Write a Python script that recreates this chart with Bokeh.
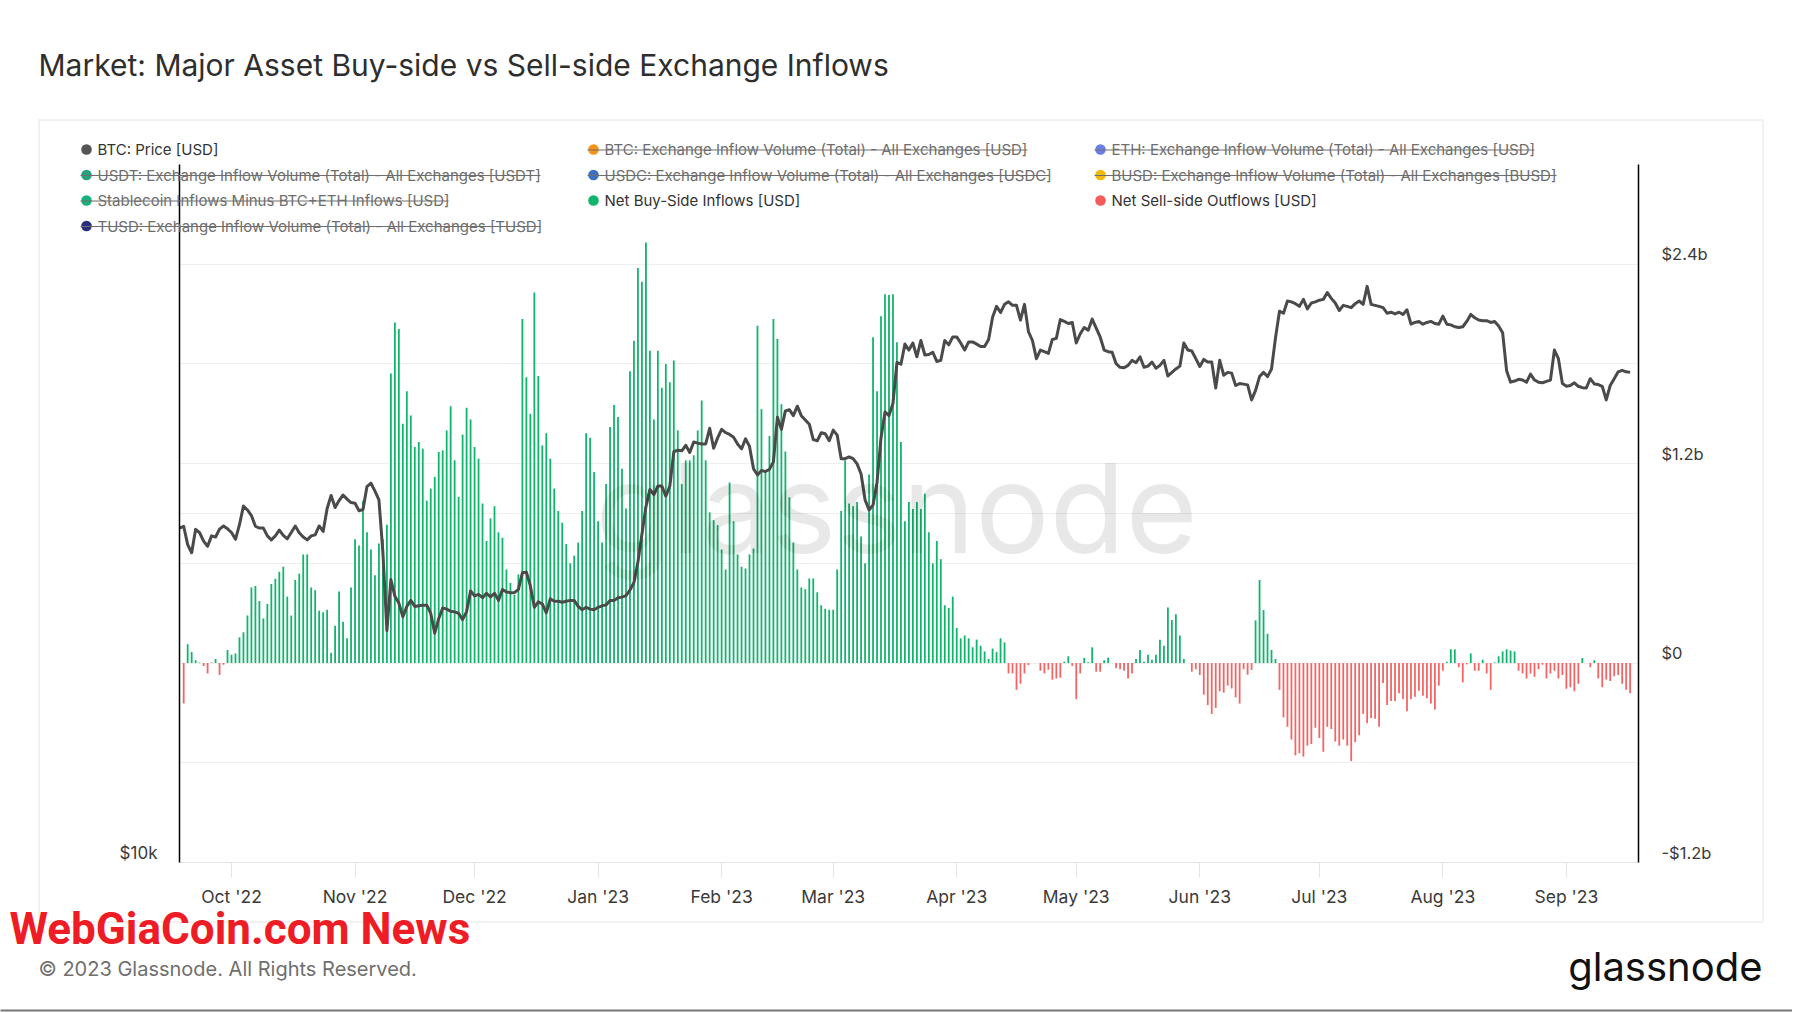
import pandas as pd
from bokeh.plotting import figure
from bokeh.models import (ColumnDataSource, Range1d, LogAxis, LogScale, FixedTicker, Grid,
                          CustomJSTickFormatter, DatetimeTickFormatter, Label)
from bokeh.core.properties import value
from bokeh.embed import file_html
from bokeh.resources import INLINE

# ---------------- data ----------------
TITLE = "Market: Major Asset Buy-side vs Sell-side Exchange Inflows"
FOOTER = "\u00a9 2023 Glassnode. All Rights Reserved."

price_start = "2022-09-18"
btc_price_k = [
    19.43, 19.50, 18.80, 18.50, 19.38, 19.25, 18.93, 18.74, 19.13, 19.09, 19.39, 19.51, 19.40,
    19.26, 19.00, 19.56, 20.30, 20.14, 19.92, 19.50, 19.43, 19.43, 19.13,
    18.98, 19.13, 19.35, 19.15, 19.02, 19.26, 19.51, 19.25, 19.09, 18.98,
    19.13, 19.17, 19.51, 19.30, 20.20, 20.73, 20.24, 20.52, 20.75, 20.58,
    20.44, 20.41, 20.11, 20.16, 21.10, 21.24, 20.91, 20.55, 18.50, 15.85,
    17.54, 16.97, 16.74, 16.29, 16.63, 16.83, 16.63, 16.65, 16.67, 16.67,
    16.40, 15.77, 16.23, 16.58, 16.54, 16.47, 16.45, 16.40, 16.20, 16.46,
    17.15, 16.98, 17.03, 16.92, 17.07, 16.95, 17.07, 16.83, 17.20, 17.11,
    17.09, 17.09, 17.20, 17.78, 17.80, 17.32, 16.60, 16.78, 16.71, 16.42,
    16.88, 16.80, 16.80, 16.77, 16.80, 16.83, 16.83, 16.63, 16.52, 16.60,
    16.54, 16.52, 16.60, 16.65, 16.68, 16.83, 16.83, 16.92, 16.94, 16.99,
    17.18, 17.44, 18.17, 19.19, 20.27, 20.98, 20.76, 21.12, 21.12, 20.70,
    21.12, 22.61, 22.68, 22.65, 22.90, 22.58, 23.05, 23.00, 22.96, 22.96,
    23.69, 22.77, 23.24, 23.64, 23.48, 23.40, 23.27, 22.96, 22.74, 23.20,
    22.85, 21.86, 21.59, 21.78, 21.74, 21.83, 22.16, 24.21, 23.64, 24.52,
    24.58, 24.29, 24.75, 24.29, 24.08, 23.88, 23.16, 23.11, 23.48, 23.43,
    23.11, 23.60, 23.37, 22.30, 22.30, 22.38, 22.30, 22.07, 21.63, 20.55,
    20.14, 20.34, 21.27, 23.24, 24.47, 24.29, 24.89, 27.00, 26.90, 28.00,
    27.67, 28.06, 27.30, 28.20, 27.40, 27.43, 27.55, 27.05, 27.11, 28.20,
    27.96, 28.40, 28.40, 28.06, 27.67, 28.12, 28.12, 28.00, 27.87, 27.87,
    28.26, 29.53, 30.18, 29.81, 30.30, 30.45, 30.24, 30.24, 29.37, 30.30,
    28.70, 28.20, 27.20, 27.67, 27.58, 27.49, 28.26, 28.32, 29.40, 29.29,
    29.17, 29.23, 28.06, 28.58, 28.94, 28.78, 29.43, 28.90, 28.40, 27.67,
    27.58, 27.55, 26.93, 26.74, 26.71, 26.84, 27.11, 26.98, 27.30, 26.74,
    26.80, 27.02, 26.69, 26.84, 27.11, 26.28, 26.47, 26.65, 26.80, 28.06,
    27.67, 27.62, 27.20, 26.78, 27.16, 27.02, 27.02, 25.66, 27.11, 26.32,
    26.47, 26.43, 25.79, 25.89, 25.86, 25.82, 25.06, 25.54, 26.25, 26.47,
    26.25, 26.65, 28.35, 29.89, 29.77, 30.50, 30.45, 30.34, 30.18, 30.60,
    30.03, 30.38, 30.45, 30.55, 30.60, 31.02, 30.66, 30.38, 29.93, 30.24,
    30.18, 30.10, 30.34, 30.50, 30.30, 31.40, 30.30, 30.24, 30.18, 30.10,
    29.77, 29.83, 29.73, 29.83, 29.70, 29.97, 29.13, 29.23, 29.29, 29.13,
    29.23, 29.29, 29.17, 29.13, 29.60, 29.13, 29.09, 28.98, 28.94, 28.98,
    29.29, 29.70, 29.50, 29.37, 29.33, 29.33, 29.23, 29.29, 29.03, 28.64,
    26.56, 25.96, 26.02, 26.11, 26.07, 25.96, 26.38, 26.07, 25.96, 25.93,
    26.00, 26.07, 27.67, 27.20, 25.89, 25.75, 25.79, 25.93, 25.75, 25.68,
    25.66, 26.14, 25.87, 25.84, 25.75, 25.06, 25.79, 26.14, 26.50, 26.58,
    26.50, 26.47,
]

flow_start = "2022-09-19"
net_flows_bn = [
    -0.244, 0.114, 0.066, 0.017, 0.004, -0.017, -0.062, 0.004, 0.025, -0.072, -0.010, 0.079,
    0.050, 0.058, 0.155, 0.186, 0.286, 0.455, 0.464, 0.373, 0.269, 0.356,
    0.476, 0.507, 0.549, 0.580, 0.400, 0.286, 0.500, 0.538, 0.654, 0.654,
    0.455, 0.439, 0.315, 0.306, 0.321, 0.062, 0.224, 0.431, 0.248, 0.149,
    0.455, 0.745, 0.708, 0.977, 0.787, 0.683, 0.528, 0.720, 0.745, 0.832,
    1.743, 2.050, 2.010, 1.440, 1.636, 1.490, 1.300, 1.330, 1.290, 0.977,
    1.050, 1.120, 1.270, 1.280, 1.400, 1.545, 1.220, 1.000, 1.375, 1.536,
    1.466, 1.300, 1.230, 0.960, 0.735, 0.870, 0.944, 0.787, 0.754, 0.563,
    0.482, 0.410, 0.534, 2.070, 1.720, 1.500, 2.230, 1.727, 1.310, 1.383,
    1.230, 1.050, 0.915, 0.845, 0.716, 0.600, 0.646, 0.725, 0.915, 1.383,
    1.356, 1.149, 0.853, 0.725, 1.077, 1.420, 1.553, 1.480, 1.170, 0.930,
    1.756, 1.940, 2.377, 2.294, 2.530, 1.880, 1.466, 1.880, 1.656, 1.800,
    1.690, 1.820, 1.400, 1.077, 1.220, 1.220, 1.250, 1.400, 1.580, 1.220,
    0.907, 0.860, 0.830, 0.683, 0.563, 1.087, 0.853, 0.654, 0.580, 0.569,
    0.654, 0.689, 2.030, 1.528, 1.160, 1.366, 2.070, 1.950, 1.557, 1.273,
    0.998, 0.725, 0.563, 0.455, 0.445, 0.509, 0.509, 0.426, 0.348, 0.327,
    0.321, 0.321, 0.563, 0.915, 1.220, 0.960, 0.944, 0.969, 0.762, 0.600,
    1.135, 1.960, 1.636, 2.087, 2.220, 2.215, 2.220, 1.930, 1.330, 0.853,
    0.969, 0.927, 0.969, 0.927, 1.019, 0.787, 0.600, 0.735, 0.625, 0.348,
    0.331, 0.400, 0.211, 0.149, 0.166, 0.149, 0.095, 0.141, 0.104, 0.070,
    0.025, 0.087, 0.066, 0.149, 0.124, -0.062, -0.062, -0.161, -0.124, -0.062,
    -0.012, 0.000, 0.000, -0.046, -0.062, -0.040, -0.100, -0.093, -0.088, 0.008,
    0.041, -0.017, -0.217, -0.062, 0.031, 0.005, 0.095, -0.052, -0.052, 0.017,
    0.033, 0.000, -0.031, -0.037, -0.046, -0.093, -0.062, 0.025, 0.079, 0.008,
    0.050, 0.020, 0.050, 0.141, 0.104, 0.335, 0.259, 0.294, 0.166, 0.025,
    0.000, -0.052, -0.037, -0.072, -0.190, -0.253, -0.306, -0.270, -0.170, -0.178,
    -0.135, -0.153, -0.207, -0.244, -0.037, -0.070, -0.041, 0.257, 0.500, 0.319,
    0.176, 0.079, 0.025, -0.161, -0.327, -0.383, -0.460, -0.555, -0.542, -0.563,
    -0.497, -0.487, -0.389, -0.451, -0.534, -0.383, -0.397, -0.472, -0.497, -0.460,
    -0.497, -0.590, -0.476, -0.435, -0.306, -0.362, -0.331, -0.335, -0.383, -0.120,
    -0.253, -0.228, -0.228, -0.182, -0.217, -0.290, -0.217, -0.203, -0.166, -0.197,
    -0.211, -0.244, -0.280, -0.135, -0.046, 0.008, 0.083, 0.083, -0.025, -0.116,
    -0.008, 0.058, -0.046, -0.046, 0.020, -0.062, -0.161, 0.004, 0.041, 0.070,
    0.083, 0.075, 0.070, -0.046, -0.062, -0.093, -0.062, -0.083, -0.037, -0.010,
    -0.093, -0.062, -0.046, -0.093, -0.072, -0.155, -0.145, -0.170, -0.124, 0.031,
    0.000, -0.025, 0.017, -0.093, -0.145, -0.099, -0.108, -0.079, -0.072, -0.124,
    -0.161, -0.182,
]

month_ticks = ["2022-10-01", "2022-11-01", "2022-12-01", "2023-01-01", "2023-02-01", "2023-03-01",
               "2023-04-01", "2023-05-01", "2023-06-01", "2023-07-01", "2023-08-01", "2023-09-01"]
flow_grid_bn = [-1.2, -0.6, 0.0, 0.6, 1.2, 1.8, 2.4, 3.0]
flow_label_bn = [-1.2, 0.0, 1.2, 2.4]
price_grid = [20000]
price_label = [10000]

legend_labels = [
    "BTC: Price [USD]",
    "BTC: Exchange Inflow Volume (Total) - All Exchanges [USD]",
    "ETH: Exchange Inflow Volume (Total) - All Exchanges [USD]",
    "USDT: Exchange Inflow Volume (Total) - All Exchanges [USDT]",
    "USDC: Exchange Inflow Volume (Total) - All Exchanges [USDC]",
    "BUSD: Exchange Inflow Volume (Total) - All Exchanges [BUSD]",
    "Stablecoin Inflows Minus BTC+ETH Inflows [USD]",
    "Net Buy-Side Inflows [USD]",
    "Net Sell-side Outflows [USD]",
    "TUSD: Exchange Inflow Volume (Total) - All Exchanges [TUSD]",
]
legend_colors = ["#555555", "#f7931a", "#6a7fe6", "#26a17b", "#3b70c4", "#f0b90b",
                 "#19b07a", "#10b46c", "#f45b5b", "#2a2f7d"]
legend_shown = [True, False, False, False, False, False, False, True, True, False]

# ---------------- styles / layout ----------------
GREEN = "#10b46c"
RED = "#f56464"
PRICE = "#4a4a4a"
GRID = "#eeeeee"
FONT = "Inter"
W, H = 1792, 1012
FL, FT, FR, FB = 179, 164, 1638, 862          # frame edges in page pixels
LIFT_PX = 10                                  # tick labels sit above their grid line

x0 = pd.Timestamp("2022-10-01") - pd.Timedelta(days=13.05)
x1 = pd.Timestamp("2022-10-01") + pd.Timedelta(days=353.1)
Y0, Y1 = -1.2e9, 3.0e9
P0, P1 = 10000, 40000

p = figure(width=W, height=H, x_axis_type="datetime", y_axis_location="right", title=None,
           x_range=Range1d(x0, x1), y_range=Range1d(Y0, Y1),
           output_backend="svg", toolbar_location=None,
           min_border_left=FL, min_border_right=W - FR,
           min_border_top=FT, min_border_bottom=H - FB)
p.background_fill_color = "white"
p.border_fill_color = "white"
p.outline_line_color = None

p.extra_y_ranges = {"price": Range1d(P0, P1)}
p.extra_y_scales = {"price": LogScale()}

frame_h = FB - FT
lift_val = LIFT_PX * (Y1 - Y0) / frame_h
lift_fac = (P1 / P0) ** (LIFT_PX / frame_h)

# grids
p.xgrid.visible = False
p.ygrid.ticker = FixedTicker(ticks=[v * 1e9 for v in flow_grid_bn])
p.ygrid.grid_line_color = GRID
p.add_layout(Grid(dimension=1, y_range_name="price", ticker=FixedTicker(ticks=price_grid),
                  grid_line_color=GRID))

# right axis (flows)
ra = p.yaxis[0]
ra.ticker = FixedTicker(ticks=[v * 1e9 + lift_val for v in flow_label_bn])
ra.formatter = CustomJSTickFormatter(args=dict(lift=lift_val), code="""
    const v = Math.round((tick - lift) / 1e8) / 10;
    if (Math.abs(v) < 1e-9) return '$0';
    return (v < 0 ? '-$' : '$') + Math.abs(v).toFixed(1) + 'b';
""")
ra.axis_line_color = "black"
ra.axis_line_width = 1.5
ra.major_tick_out = 0
ra.major_tick_in = 0
ra.minor_tick_out = 0
ra.minor_tick_in = 0
ra.major_label_standoff = 23
ra.major_label_text_font = FONT
ra.major_label_text_font_size = "16.5px"
ra.major_label_text_color = "#3a3a3a"

# left axis (price, log)
la = LogAxis(y_range_name="price", ticker=FixedTicker(ticks=[v * lift_fac for v in price_label]),
             formatter=CustomJSTickFormatter(code="return '$' + Math.round(tick / 1000) + 'k';"))
la.axis_line_color = "black"
la.axis_line_width = 1.5
la.major_tick_out = 0
la.major_tick_in = 0
la.minor_tick_out = 0
la.minor_tick_in = 0
la.major_label_standoff = 22
la.major_label_text_font = FONT
la.major_label_text_font_size = "17px"
la.major_label_text_color = "#3a3a3a"
p.add_layout(la, "left")

# x axis
xa = p.xaxis[0]
xa.ticker = FixedTicker(ticks=[pd.Timestamp(t).value // 10**6 for t in month_ticks])
fmt = "%b '%y"
xa.formatter = DatetimeTickFormatter(days=fmt, months=fmt, years=fmt, hours=fmt)
xa.axis_line_color = "#e3e3e3"
xa.major_tick_line_color = "#e3e3e3"
xa.major_tick_out = 15
xa.major_tick_in = 0
xa.minor_tick_out = 0
xa.minor_tick_in = 0
xa.major_label_standoff = 8
xa.major_label_text_font = FONT
xa.major_label_text_font_size = "17.5px"
xa.major_label_text_color = "#3a3a3a"

# ---------------- glyphs ----------------
flow_dates = pd.date_range(flow_start, periods=len(net_flows_bn), freq="D")
price_dates = pd.date_range(price_start, periods=len(btc_price_k), freq="D")
bar_w = 0.45 * 86400000

src = ColumnDataSource(dict(
    x=flow_dates,
    buy=[max(v, 0.0) * 1e9 for v in net_flows_bn],
    sell=[min(v, 0.0) * 1e9 for v in net_flows_bn],
))
p.vbar(x="x", top="buy", bottom=0, width=bar_w, source=src, fill_color=GREEN, line_color=None)
p.vbar(x="x", top="sell", bottom=0, width=bar_w, source=src, fill_color=RED, line_color=None)
p.line(x=price_dates, y=[v * 1000 for v in btc_price_k], y_range_name="price",
       line_color=PRICE, line_width=3, line_join="round")

# watermark over the plot area
p.add_layout(Label(x=896 - FL, y=FB - 507, x_units="screen", y_units="screen", text="glassnode",
                   text_font=FONT, text_font_size="124px", text_color="black", text_alpha=0.09,
                   text_align="center", text_baseline="alphabetic"))

# ---------------- page furniture (drawn in page pixels, mapped through the scales) ----------------
xms0 = x0.value / 1e6
xms1 = x1.value / 1e6


def dx(X):
    return xms0 + (X - FL) / (FR - FL) * (xms1 - xms0)


def dy(Y):
    return Y0 + (FB - Y) / (FB - FT) * (Y1 - Y0)


def add_text(X, Y, text, size, color, align="left", baseline="middle", font=FONT, style="normal"):
    p.text(x=[dx(X)], y=[dy(Y)], text=[text], text_font=value(font), text_font_size=value(f"{size}px"),
           text_color=color, text_align=align, text_baseline=baseline, text_font_style=style,
           level="overlay")


def add_seg(Xa, Ya, Xb, Yb, color, width=1, cap="butt"):
    p.segment(x0=[dx(Xa)], y0=[dy(Ya)], x1=[dx(Xb)], y1=[dy(Yb)], line_color=color,
              line_width=width, line_cap=cap, level="overlay")


add_text(38, 64, TITLE, 30, "#2e2e2e")
# outer panel border
add_seg(38, 119.5, 1762, 119.5, "#e4e4e4")
add_seg(1762.5, 119, 1762.5, 921, "#e4e4e4")
add_seg(38, 921.5, 1762, 921.5, "#e4e4e4")
add_seg(38.5, 119, 38.5, 921, "#e4e4e4")

col_marker_x = [86, 593, 1100]
row_y = [149, 174.5, 200, 225.5]
strike_end = {1: 1027, 2: 1534, 3: 540, 4: 1049, 5: 1556, 6: 448, 9: 540}
for i, (lab, col, shown) in enumerate(zip(legend_labels, legend_colors, legend_shown)):
    r, c = divmod(i, 3)
    mx, my = col_marker_x[c], row_y[r]
    add_seg(mx - 0.05, my, mx + 0.05, my, col, width=10.5, cap="round")
    add_text(mx + 11, my, lab, 15, "#333333" if shown else "#6e6e6e")
    if not shown:
        add_seg(mx - 6, my + 0.5, strike_end[i], my + 0.5, "#6e6e6e")

add_text(38, 968, FOOTER, 20, "#6f6f6f")
add_text(1762, 966, "glassnode", 40, "#111111", align="right", baseline="alphabetic")
add_text(9, 928, "WebGiaCoin.com News", 44, "#ee1c24", style="bold", font="Roboto")
add_seg(0, 1010, W, 1010, "#777777", width=2)

open("out.html", "w").write(file_html(p, INLINE))
